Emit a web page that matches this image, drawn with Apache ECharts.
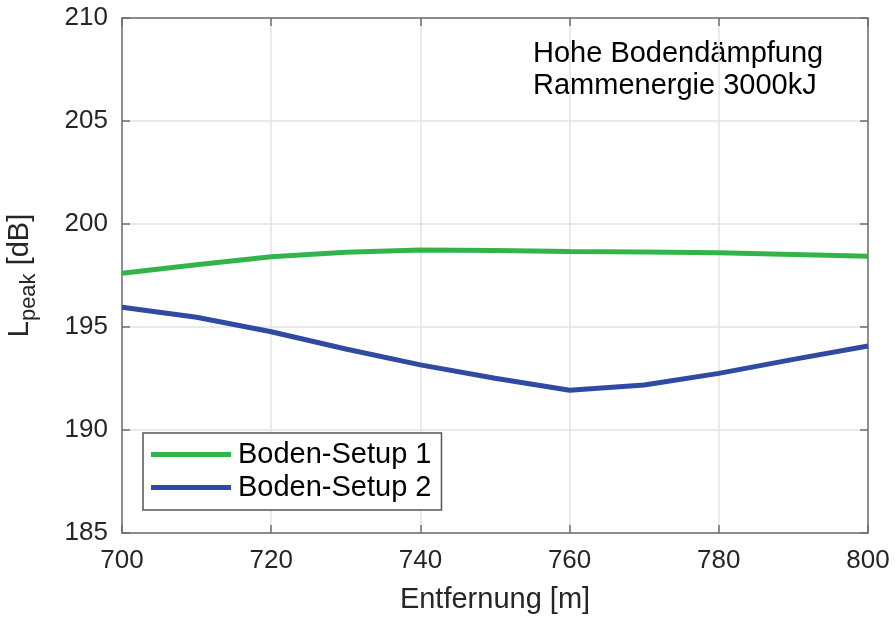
<!DOCTYPE html>
<html>
<head>
<meta charset="utf-8">
<script src="https://cdn.jsdelivr.net/npm/echarts@6/dist/echarts.min.js"></script>
<style>
  html, body { margin: 0; padding: 0; background: #fff; }
  #chart { width: 896px; height: 617px; }
</style>
</head>
<body>
<div id="chart"></div>
<script>
// Distance [m]
const distance = [700, 710, 720, 730, 740, 750, 760, 770, 780, 790, 800];
// Peak level [dB] per soil setup
const setup1 = [197.61, 198.02, 198.41, 198.63, 198.74, 198.71, 198.67, 198.64, 198.61, 198.52, 198.43];
const setup2 = [195.96, 195.47, 194.77, 193.93, 193.16, 192.51, 191.93, 192.18, 192.75, 193.43, 194.08];
const seriesNames = ['Boden-Setup 1', 'Boden-Setup 2'];
const annotation = ['Hohe Bodendämpfung', 'Rammenergie 3000kJ'];

const FONT = 'Liberation Sans, Arial, sans-serif';
const AXIS_COLOR = '#6e6e6e';
const GRID_COLOR = '#e3e3e3';
const TEXT_COLOR = '#262626';

const chart = echarts.init(document.getElementById('chart'), null, { renderer: 'canvas' });

const pair = (xs, ys) => xs.map((x, i) => [x, ys[i]]);

const baseX = {
  type: 'value', min: 700, max: 800, interval: 20,
  axisLine: { show: true, lineStyle: { color: AXIS_COLOR, width: 1.5 } },
  axisTick: { show: true, inside: true, length: 8, lineStyle: { color: AXIS_COLOR, width: 1.5 } }
};
const baseY = {
  type: 'value', min: 185, max: 210, interval: 5,
  axisLine: { show: true, lineStyle: { color: AXIS_COLOR, width: 1.5 } },
  axisTick: { show: true, inside: true, length: 8, lineStyle: { color: AXIS_COLOR, width: 1.5 } }
};

chart.setOption({
  animation: false,
  textStyle: { fontFamily: FONT },
  grid: { left: 122, right: 28, top: 18, bottom: 84, containLabel: false, outerBoundsMode: 'none' },
  xAxis: [
    Object.assign({}, baseX, {
      position: 'bottom',
      name: 'Entfernung [m]', nameLocation: 'middle', nameGap: 52,
      nameTextStyle: { fontSize: 29, color: TEXT_COLOR, fontFamily: FONT },
      axisLabel: { fontSize: 26, color: TEXT_COLOR, margin: 15, fontFamily: FONT },
      splitLine: { show: true, lineStyle: { color: GRID_COLOR, width: 1.5 } }
    }),
    Object.assign({}, baseX, {
      position: 'top',
      axisLabel: { show: false },
      splitLine: { show: false }
    })
  ],
  yAxis: [
    Object.assign({}, baseY, {
      position: 'left',
      name: 'L{sub|peak} [dB]', nameLocation: 'middle', nameGap: 82,
      nameTextStyle: {
        fontSize: 29, color: TEXT_COLOR, fontFamily: FONT,
        rich: { sub: { fontSize: 22, color: TEXT_COLOR, fontFamily: FONT, verticalAlign: 'bottom', padding: [18, 0, 0, 0] } }
      },
      axisLabel: { fontSize: 26, color: TEXT_COLOR, margin: 14, fontFamily: FONT },
      splitLine: { show: true, lineStyle: { color: GRID_COLOR, width: 1.5 } }
    }),
    Object.assign({}, baseY, {
      position: 'right',
      axisLabel: { show: false },
      splitLine: { show: false }
    })
  ],
  legend: {
    orient: 'vertical',
    left: 143, top: 433,
    padding: [7, 10, 8, 8],
    itemGap: 4,
    itemWidth: 80, itemHeight: 5,
    icon: 'rect',
    borderColor: '#555', borderWidth: 1.5, borderRadius: 0,
    backgroundColor: '#fff',
    textStyle: { fontSize: 29, color: '#000', fontFamily: FONT, padding: [0, 0, 0, 2] },
    data: seriesNames
  },
  graphic: [
    {
      type: 'text', x: 533, y: 54,
      style: { text: annotation[0], fontSize: 29, fill: '#000', fontFamily: FONT, verticalAlign: 'middle' }
    },
    {
      type: 'text', x: 533, y: 86,
      style: { text: annotation[1], fontSize: 29, fill: '#000', fontFamily: FONT, verticalAlign: 'middle' }
    }
  ],
  series: [
    {
      name: seriesNames[0], type: 'line', showSymbol: false,
      xAxisIndex: 0, yAxisIndex: 0,
      color: '#33b44a',
      lineStyle: { width: 5, color: '#33b44a' },
      data: pair(distance, setup1)
    },
    {
      name: seriesNames[1], type: 'line', showSymbol: false,
      xAxisIndex: 0, yAxisIndex: 0,
      color: '#2f4aa1',
      lineStyle: { width: 5, color: '#2f4aa1' },
      data: pair(distance, setup2)
    }
  ]
});
</script>
</body>
</html>
